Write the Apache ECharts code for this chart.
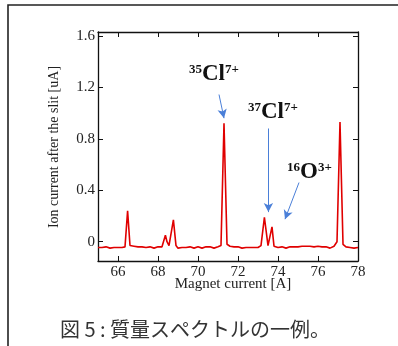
<!DOCTYPE html>
<html><head><meta charset="utf-8">
<script src="https://cdn.jsdelivr.net/npm/echarts@6/dist/echarts.min.js"></script>
<style>html,body{margin:0;padding:0;background:#fff}#c{width:398px;height:346px}</style>
</head><body><div id="c"></div>
<script>
const magnetCurrent = [65.0,65.1,65.2,65.3,65.4,65.5,65.6,65.7,65.8,65.9,66.0,66.1,66.2,66.35,66.48,66.6,66.7,66.8,66.9,67.0,67.1,67.2,67.3,67.4,67.5,67.6,67.7,67.8,67.9,68.0,68.1,68.2,68.3,68.37,68.45,68.55,68.77,68.9,69.0,69.1,69.2,69.3,69.4,69.5,69.6,69.7,69.8,69.9,70.0,70.1,70.2,70.3,70.4,70.5,70.6,70.7,70.8,70.9,71.0,71.15,71.3,71.45,71.55,71.6,71.7,71.8,71.9,72.0,72.1,72.2,72.3,72.4,72.5,72.6,72.7,72.8,72.9,73.0,73.15,73.32,73.5,73.7,73.8,73.9,74.0,74.1,74.2,74.3,74.4,74.5,74.6,74.7,74.8,74.9,75.0,75.1,75.2,75.3,75.4,75.5,75.6,75.7,75.8,75.9,76.0,76.1,76.2,76.3,76.4,76.5,76.6,76.7,76.8,76.95,77.1,77.25,77.35,77.4,77.5,77.6,77.7,77.8,77.9,78.0];
const ionCurrent = [-0.045,-0.05,-0.045,-0.05,-0.04,-0.045,-0.05,-0.04,-0.045,-0.05,-0.045,-0.04,-0.045,-0.04,0.24,-0.03,-0.04,-0.035,-0.045,-0.04,-0.045,-0.04,-0.05,-0.045,-0.05,-0.04,-0.045,-0.05,-0.045,-0.04,-0.045,-0.04,-0.035,0.05,0.0,-0.03,0.17,-0.03,-0.05,-0.04,-0.045,-0.05,-0.045,-0.05,-0.04,-0.045,-0.05,-0.045,-0.04,-0.045,-0.05,-0.045,-0.04,-0.05,-0.04,-0.045,-0.05,-0.045,-0.04,-0.03,0.92,-0.02,-0.03,-0.035,-0.03,-0.04,-0.045,-0.04,-0.045,-0.05,-0.04,-0.045,-0.04,-0.045,-0.04,-0.045,-0.04,-0.045,-0.03,0.19,-0.03,0.115,-0.035,-0.04,-0.045,-0.05,-0.04,-0.045,-0.05,-0.045,-0.04,-0.045,-0.04,-0.035,-0.04,-0.035,-0.035,-0.03,-0.035,-0.025,-0.035,-0.03,-0.04,-0.035,-0.035,-0.04,-0.04,-0.045,-0.04,-0.045,-0.05,-0.045,-0.035,0.0,0.93,-0.02,-0.035,-0.04,-0.045,-0.045,-0.04,-0.05,-0.045,-0.045];
const xTicks = [66,68,70,72,74,76,78];
const yTicks = [0,0.4,0.8,1.2,1.6];
// annotation arrows: [fromX, fromY, toX, toY]
const arrows = [[71.05,1.144,71.3,0.96],[73.52,0.88,73.52,0.23],[75.05,0.46,74.35,0.175]];

const serif = 'Liberation Serif';
const chart = echarts.init(document.getElementById('c'), null, {renderer:'canvas'});
const axisLine = {show:true, onZero:false, lineStyle:{color:'#111', width:1.3}};
const xBase = {type:'value', min:65, max:78, axisLine, splitLine:{show:false},
  axisTick:{show:true, inside:true, length:5, customValues:xTicks, lineStyle:{color:'#111'}}};
const yBase = {type:'value', min:-0.15, max:1.63, axisLine, splitLine:{show:false},
  axisTick:{show:true, inside:true, length:5, customValues:yTicks, lineStyle:{color:'#111'}}};
const sup = {fontFamily:serif, fontWeight:'bold', fontSize:13, fill:'#111', verticalAlign:'top', padding:[0,0,10,0]};
const big = {fontFamily:serif, fontWeight:'bold', fontSize:23, fill:'#111', verticalAlign:'bottom'};
chart.setOption({
  animation:false,
  grid:{left:98, top:32, right:40, bottom:85},
  xAxis:[
    Object.assign({}, xBase, {position:'bottom', axisLabel:{customValues:xTicks, fontFamily:serif, fontSize:15, color:'#222', margin:4}}),
    Object.assign({}, xBase, {position:'top', axisLabel:{show:false}})
  ],
  yAxis:[
    Object.assign({}, yBase, {position:'left', axisLabel:{customValues:yTicks, fontFamily:serif, fontSize:15, color:'#222', margin:3}}),
    Object.assign({}, yBase, {position:'right', axisLabel:{show:false}})
  ],
  series:[{
    type:'line', data:magnetCurrent.map((x,i)=>[x, ionCurrent[i]]),
    symbol:'none', lineStyle:{color:'#e00000', width:1.6},
    markLine:{silent:true, symbol:['none','arrow'], symbolSize:[7,9], label:{show:false},
      lineStyle:{color:'#4a7fd8', width:1, type:'solid'},
      data: arrows.map(a=>[{coord:[a[0],a[1]]},{coord:[a[2],a[3]]}])}
  }],
  graphic:[
    {type:'rect', shape:{x:8, y:5, width:420, height:400}, style:{fill:'none', stroke:'#222', lineWidth:1.6}, silent:true},
    {type:'text', x:233, y:284, style:{text:'Magnet current [A]', fontFamily:serif, fontSize:15, fill:'#222', align:'center', verticalAlign:'middle'}},
    {type:'text', x:54, y:147, rotation:Math.PI/2, style:{text:'Ion current after the slit [uA]', fontFamily:serif, fontSize:14, fill:'#222', align:'center', verticalAlign:'middle'}},
    {type:'text', x:189, y:86, style:{text:'{s|35}{b|Cl}{s|7+}', verticalAlign:'bottom', rich:{b:big, s:sup}}},
    {type:'text', x:248, y:124, style:{text:'{s|37}{b|Cl}{s|7+}', verticalAlign:'bottom', rich:{b:big, s:sup}}},
    {type:'text', x:287, y:184, style:{text:'{s|16}{b|O}{s|3+}', verticalAlign:'bottom', rich:{b:big, s:sup}}},
    {type:'text', x:60, y:329, style:{text:'図 5 : 質量スペクトルの一例。', fontFamily:'Noto Sans CJK JP', fontSize:20, fill:'#333', align:'left', verticalAlign:'middle'}}
  ]
});
</script></body></html>
